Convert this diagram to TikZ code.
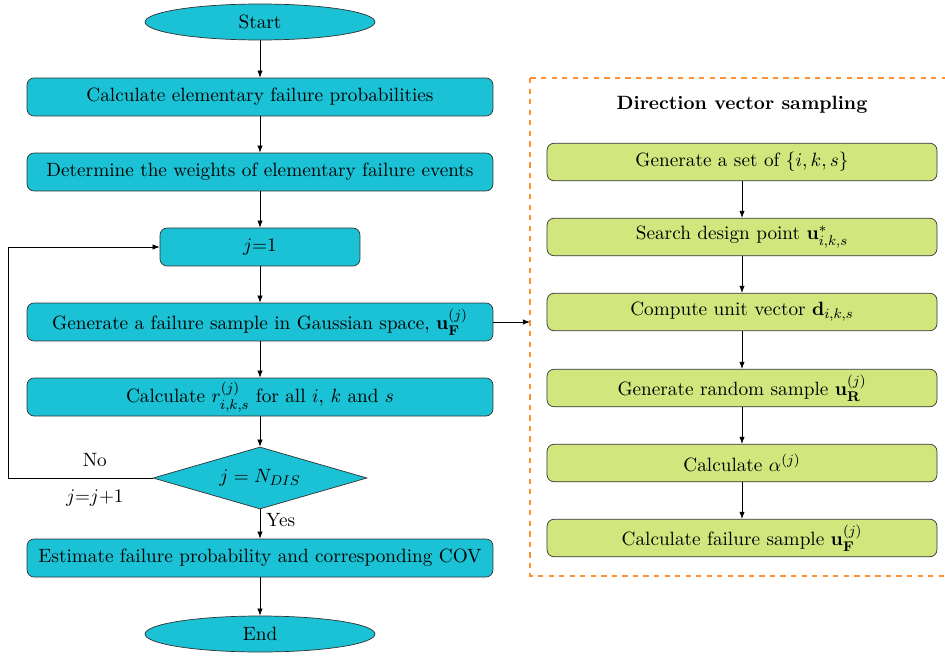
\documentclass[tikz,border=0pt]{standalone}
\usepackage{amsmath}
\usetikzlibrary{shapes.geometric,arrows.meta}
\definecolor{flowcyan}{HTML}{1BC1D4}
\definecolor{flowgreen}{HTML}{D2E67E}
\definecolor{flowdash}{HTML}{FF9030}
\tikzset{
  procbox/.style={draw=black!80,fill=flowcyan,rounded corners=4pt,minimum width=9.32cm,minimum height=0.76cm,inner sep=2pt},
  subbox/.style={draw=black!80,fill=flowgreen,rounded corners=4pt,minimum width=7.8cm,minimum height=0.75cm,inner sep=2pt},
  termnode/.style={draw=black!80,fill=flowcyan,ellipse,minimum width=4.6cm,minimum height=0.72cm,inner sep=0pt},
  decnode/.style={draw=black!80,fill=flowcyan,diamond,aspect=3.45,minimum width=4.28cm,minimum height=1.24cm,inner sep=0pt},
  flow/.style={-{Latex[length=4pt,width=3pt]},black}
}
\begin{document}
\begin{tikzpicture}[x=0.02cm,y=-0.02cm,font=\fontsize{10.95}{13.6}\selectfont]
    \useasboundingbox (0,0) rectangle (945,655);
    % main loop
    \node[termnode] (start) at (260,22) {Start};
    \node[procbox] (elem) at (260,97) {Calculate elementary failure probabilities};
    \node[procbox] (weights) at (260,172) {Determine the weights of elementary failure events};
    \node[procbox,minimum width=4cm] (init) at (260,247) {$j$=1};
    \node[procbox] (sample) at (260,322) {Generate a failure sample in Gaussian space, $\mathbf{u}_{\mathbf{F}}^{(j)}$};
    \node[procbox] (ratio) at (260,397) {Calculate $r_{i,k,s}^{(j)}$ for all $i$, $k$ and $s$};
    \node[decnode] (check) at (260,478) {$j=N_{DIS}$};
    \node[procbox] (estim) at (260,558) {Estimate failure probability and corresponding COV};
    \node[termnode] (stop) at (260,634) {End};
    \draw[flow] (start) -- (elem);
    \draw[flow] (elem) -- (weights);
    \draw[flow] (weights) -- (init);
    \draw[flow] (init) -- (sample);
    \draw[flow] (sample) -- (ratio);
    \draw[flow] (ratio) -- (check);
    \draw[flow] (check) -- node[right,pos=0.35] {Yes} (estim);
    \draw[flow] (estim) -- (stop);
    \coordinate (loopcorner) at (8,478);
    \draw[flow] (check.west) -- node[above=3pt,pos=0.4] {No} node[below=3pt,pos=0.4] {$j$=$j$+1} (loopcorner) |- (init.west);
    % direction vector sampling
    \draw[flowdash,dashed,thick] (530,78) rectangle (952,576);
    \coordinate (dirin) at (530,322);
    \node[font=\fontsize{10.95}{13.6}\selectfont\bfseries] (dirtitle) at (742,105) {Direction vector sampling};
    \node[subbox] (set) at (742,162) {Generate a set of $\{i,k,s\}$};
    \node[subbox] (design) at (742,237) {Search design point $\mathbf{u}^{*}_{i,k,s}$};
    \node[subbox] (unit) at (742,312) {Compute unit vector $\mathbf{d}_{i,k,s}$};
    \node[subbox] (rand) at (742,388) {Generate random sample $\mathbf{u}_{\mathbf{R}}^{(j)}$};
    \node[subbox] (alpha) at (742,463) {Calculate $\alpha^{(j)}$};
    \node[subbox] (fail) at (742,538) {Calculate failure sample $\mathbf{u}_{\mathbf{F}}^{(j)}$};
    \draw[flow] (set) -- (design);
    \draw[flow] (design) -- (unit);
    \draw[flow] (unit) -- (rand);
    \draw[flow] (rand) -- (alpha);
    \draw[flow] (alpha) -- (fail);
    \draw[flow] (sample.east) -- (dirin);
\end{tikzpicture}
\end{document}
